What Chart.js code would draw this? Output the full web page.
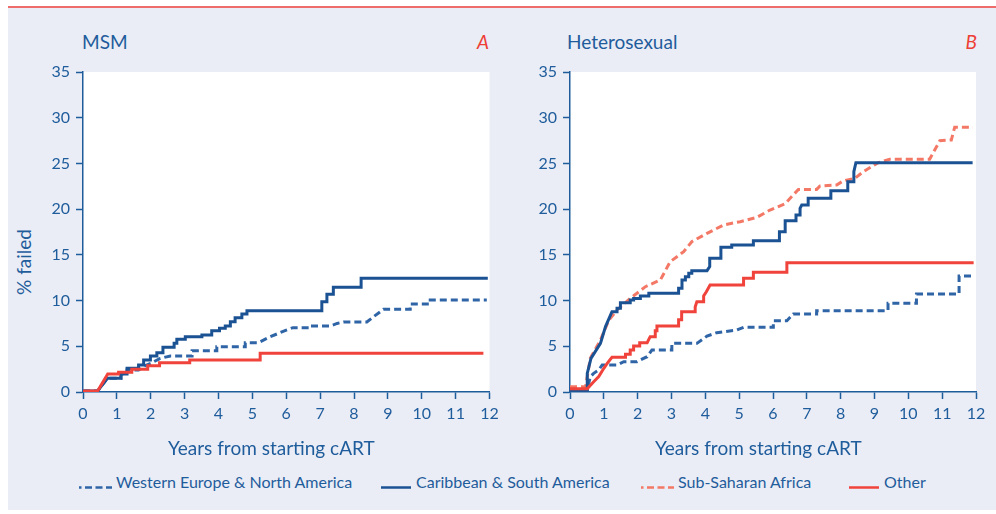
<!DOCTYPE html>
<html><head><meta charset="utf-8">
<script src="https://cdn.jsdelivr.net/npm/chart.js@4"></script>
<style>
html,body{margin:0;padding:0;background:#fff;width:996px;height:514px;overflow:hidden;font-family:Lato,sans-serif;}
#frame{position:absolute;left:8px;top:8px;width:988px;height:502px;background:#eaedf5;}
#topline{position:absolute;left:8px;top:6px;width:988px;height:2px;background:#ee6d6a;}
.t{position:absolute;color:#1f5c9c;font-size:19px;line-height:19px;white-space:nowrap;}
.lab{position:absolute;color:#ee3e36;font-size:19px;line-height:19px;font-style:italic;text-align:right;width:60px;}
.cv{position:absolute;top:40px;}
.lg{position:absolute;top:474px;color:#1f5c9c;font-size:16px;line-height:16px;white-space:nowrap;}
.ls{position:absolute;top:485px;}
#ylab{position:absolute;left:-26px;top:252px;width:100px;height:20px;line-height:20px;text-align:center;transform:rotate(-90deg);color:#1f5c9c;font-size:19px;white-space:nowrap;}
</style></head>
<body>
<div id="frame"></div>
<div id="topline"></div>
<div class="t" style="left:82px;top:32px;">MSM</div>
<div class="lab" style="left:429px;top:32px;">A</div>
<div class="t" style="left:567px;top:32px;">Heterosexual</div>
<div class="lab" style="left:917px;top:32px;">B</div>
<div id="ylab">% failed</div>
<canvas id="cA" class="cv" width="500" height="400" style="left:0px;"></canvas>
<canvas id="cB" class="cv" width="500" height="400" style="left:487px;"></canvas>
<div class="t" style="left:168px;top:438px;">Years from starting cART</div>
<div class="t" style="left:655px;top:438px;">Years from starting cART</div>

<svg class="ls" style="left:79px" width="33" height="5"><line x1="0" y1="2.5" x2="33" y2="2.5" stroke="#2f65a6" stroke-width="2.5" stroke-dasharray="7 3.5" stroke-dashoffset="4.5"/></svg>
<div class="lg" id="lg0" style="left:116px;"></div>
<svg class="ls" style="left:381px" width="30" height="5"><line x1="0" y1="2.5" x2="30" y2="2.5" stroke="#1b5293" stroke-width="2.5"/></svg>
<div class="lg" id="lg1" style="left:416px;"></div>
<svg class="ls" style="left:641px" width="33" height="5"><line x1="0" y1="2.5" x2="33" y2="2.5" stroke="#f47866" stroke-width="2.5" stroke-dasharray="7 3.5" stroke-dashoffset="4.5"/></svg>
<div class="lg" id="lg2" style="left:678px;"></div>
<svg class="ls" style="left:849px" width="30" height="5"><line x1="0" y1="2.5" x2="30" y2="2.5" stroke="#f0433b" stroke-width="2.5"/></svg>
<div class="lg" id="lg3" style="left:884px;"></div>

<script>
// ---- data (years from starting cART, % failed) ----
const seriesNames = ['Western Europe & North America','Caribbean & South America','Sub-Saharan Africa','Other'];
const xTickValues = [0,1,2,3,4,5,6,7,8,9,10,11,12];
const yTickValues = [0,5,10,15,20,25,30,35];

const msmWestEurope = [[0,0.1],[0.43,0.1],[0.72,1.5],[1.12,1.5],[1.12,1.97],[1.3,1.97],[1.3,2.4],[1.64,2.4],[1.84,2.9],[2.0,3.13],[2.28,3.68],[2.58,3.94],[3.22,3.94],[3.22,4.52],[3.95,4.52],[3.95,4.96],[4.79,4.96],[4.79,5.4],[5.18,5.4],[5.5,6.0],[6.02,6.8],[6.2,7.04],[6.71,7.04],[6.71,7.22],[7.30,7.22],[7.5,7.5],[7.69,7.66],[8.38,7.66],[8.6,8.3],[8.87,9.04],[9.66,9.04],[9.66,9.62],[10.25,9.62],[10.25,10.06],[11.92,10.06]];
const msmCaribbean = [[0,0.1],[0.43,0.1],[0.72,1.5],[1.12,1.5],[1.12,1.97],[1.3,1.97],[1.3,2.59],[1.64,2.59],[1.64,2.95],[1.79,2.95],[1.79,3.5],[1.99,3.5],[1.99,3.94],[2.18,3.94],[2.18,4.3],[2.36,4.3],[2.36,4.89],[2.69,4.89],[2.69,5.32],[2.77,5.32],[2.77,5.76],[3.02,5.76],[3.02,6.05],[3.51,6.05],[3.51,6.23],[3.80,6.23],[3.80,6.71],[4.03,6.71],[4.03,6.96],[4.20,6.96],[4.20,7.22],[4.35,7.22],[4.35,7.69],[4.49,7.69],[4.49,8.13],[4.69,8.13],[4.69,8.53],[4.84,8.53],[4.84,8.9],[7.05,8.9],[7.05,9.88],[7.20,9.88],[7.20,10.68],[7.39,10.68],[7.39,11.45],[8.21,11.45],[8.21,12.43],[11.95,12.43]];
const msmOther = [[0,0.1],[0.43,0.1],[0.73,1.97],[1.05,1.97],[1.05,2.15],[1.44,2.15],[1.44,2.48],[1.91,2.48],[1.91,2.88],[2.26,2.88],[2.26,3.21],[3.15,3.21],[3.15,3.5],[5.23,3.5],[5.23,4.25],[11.82,4.25]];

const hetWestEurope = [[0,0.2],[0.51,0.2],[0.60,1.68],[0.70,2.04],[0.85,2.41],[0.95,2.95],[1.39,2.95],[1.59,3.32],[1.98,3.32],[2.28,3.86],[2.42,4.59],[3.01,4.59],[3.01,5.32],[3.75,5.32],[4.05,6.12],[4.34,6.49],[4.93,6.78],[5.13,7.07],[6.01,7.07],[6.01,7.8],[6.41,7.8],[6.60,8.53],[7.29,8.53],[7.29,8.9],[9.40,8.9],[9.40,9.7],[10.24,9.7],[10.24,10.72],[11.5,10.72],[11.5,12.69],[11.91,12.69]];
const hetCaribbean = [[0,0.2],[0.51,0.2],[0.51,2.04],[0.62,3.68],[0.90,5.32],[1.05,7.15],[1.24,8.79],[1.39,8.79],[1.39,9.15],[1.49,9.15],[1.49,9.77],[1.78,9.77],[1.78,10.06],[1.88,10.06],[1.88,10.24],[2.08,10.24],[2.08,10.5],[2.33,10.5],[2.33,10.79],[3.21,10.79],[3.21,11.34],[3.31,11.34],[3.31,12.25],[3.41,12.25],[3.41,12.61],[3.51,12.61],[3.51,12.98],[3.60,12.98],[3.60,13.27],[4.05,13.27],[4.13,13.71],[4.13,14.62],[4.46,14.62],[4.46,15.82],[4.78,15.82],[4.78,16.08],[5.42,16.08],[5.42,16.55],[6.19,16.55],[6.19,17.54],[6.36,17.54],[6.36,18.74],[6.68,18.74],[6.68,19.36],[6.80,19.36],[6.80,20.09],[6.85,20.45],[7.04,20.45],[7.04,21.18],[7.71,21.18],[7.71,22.02],[8.21,22.02],[8.21,23.0],[8.39,23.0],[8.39,24.1],[8.45,25.08],[11.9,25.08]];
const hetSubSaharan = [[0,0.58],[0.46,0.58],[0.60,3.68],[0.90,5.69],[1.15,7.87],[1.39,8.97],[1.78,10.24],[2.23,11.52],[2.67,12.25],[2.96,14.25],[3.36,15.35],[3.60,16.44],[4.05,17.35],[4.54,18.27],[5.03,18.63],[5.52,19.1],[5.91,19.9],[6.36,20.6],[6.75,22.16],[7.29,22.16],[7.39,22.53],[7.88,22.64],[8.08,23.1],[8.42,23.37],[8.67,24.1],[9.11,25.08],[9.45,25.45],[10.63,25.45],[10.93,27.49],[11.27,27.56],[11.37,28.95],[11.91,28.95]];
const hetOther = [[0,0.36],[0.51,0.36],[0.70,1.13],[0.85,1.68],[1.0,2.59],[1.10,3.14],[1.24,3.79],[1.64,3.79],[1.64,4.12],[1.78,4.12],[1.78,4.59],[1.88,4.59],[1.88,5.03],[2.06,5.03],[2.06,5.4],[2.28,5.4],[2.37,6.05],[2.52,6.05],[2.52,6.71],[2.57,6.71],[2.57,7.22],[3.21,7.22],[3.21,7.9],[3.30,7.9],[3.30,8.79],[3.70,8.79],[3.70,9.3],[3.75,9.88],[3.95,9.88],[3.95,10.5],[4.03,10.97],[4.14,11.7],[5.13,11.7],[5.13,12.43],[5.42,12.43],[5.42,13.09],[6.41,13.09],[6.41,14.15],[11.93,14.15]];

// ---- styling ----
const BLUE = '#1f5c9c';
const styles = [
  {color:'#2f65a6', dash:[7,4]},
  {color:'#1b5293', dash:[]},
  {color:'#f47866', dash:[7,4]},
  {color:'#f0433b', dash:[]}
];
seriesNames.forEach((n,i)=>{ document.getElementById('lg'+i).textContent = n; });

const bgPlugin = {id:'bg', beforeDraw(c){const a=c.chartArea,ctx=c.ctx;ctx.save();ctx.fillStyle='#ffffff';ctx.fillRect(a.left,a.top,a.right-a.left,a.bottom-a.top);ctx.restore();}};

function axis(min,max,vals,isX){
  return {
    type:'linear', min:min, max:max,
    afterBuildTicks: s => { s.ticks = vals.map(v=>({value:v})); },
    border:{display:true,color:BLUE,width:1.5},
    grid:{drawOnChartArea:false,drawTicks:true,tickLength:7,tickColor:BLUE,tickWidth:1.5,color:BLUE},
    ticks:{color:BLUE,font:{size:16,family:'Lato'},padding:isX?5:6,autoSkip:false,maxRotation:0},
    afterFit: s => {
      if(isX){ s.height = 48; s.paddingLeft = 0; s.paddingRight = 0; }
      else { s.width = 83; s.paddingTop = 0; s.paddingBottom = 0; }
    }
  };
}
function ds(idx,data){
  return {label:seriesNames[idx],data:data,borderColor:styles[idx].color,borderDash:styles[idx].dash,
    borderWidth:3,pointRadius:0,fill:false,tension:0,borderJoinStyle:'miter',borderCapStyle:'butt'};
}
function make(id,sets,padRight){
  return new Chart(document.getElementById(id),{
    type:'line',
    data:{datasets:sets},
    options:{
      responsive:false, animation:false, events:[],
      layout:{padding:{top:32,right:padRight,left:0,bottom:0}},
      plugins:{legend:{display:false},tooltip:{enabled:false}},
      scales:{x:axis(0,12,xTickValues,true), y:axis(0,35,yTickValues,false)}
    },
    plugins:[bgPlugin]
  });
}
Chart.defaults.font.family = 'Lato';
make('cA',[ds(3,msmOther),ds(1,msmCaribbean),ds(0,msmWestEurope)],10.5);
make('cB',[ds(3,hetOther),ds(1,hetCaribbean),ds(0,hetWestEurope),ds(2,hetSubSaharan)],11);
</script>
</body></html>
